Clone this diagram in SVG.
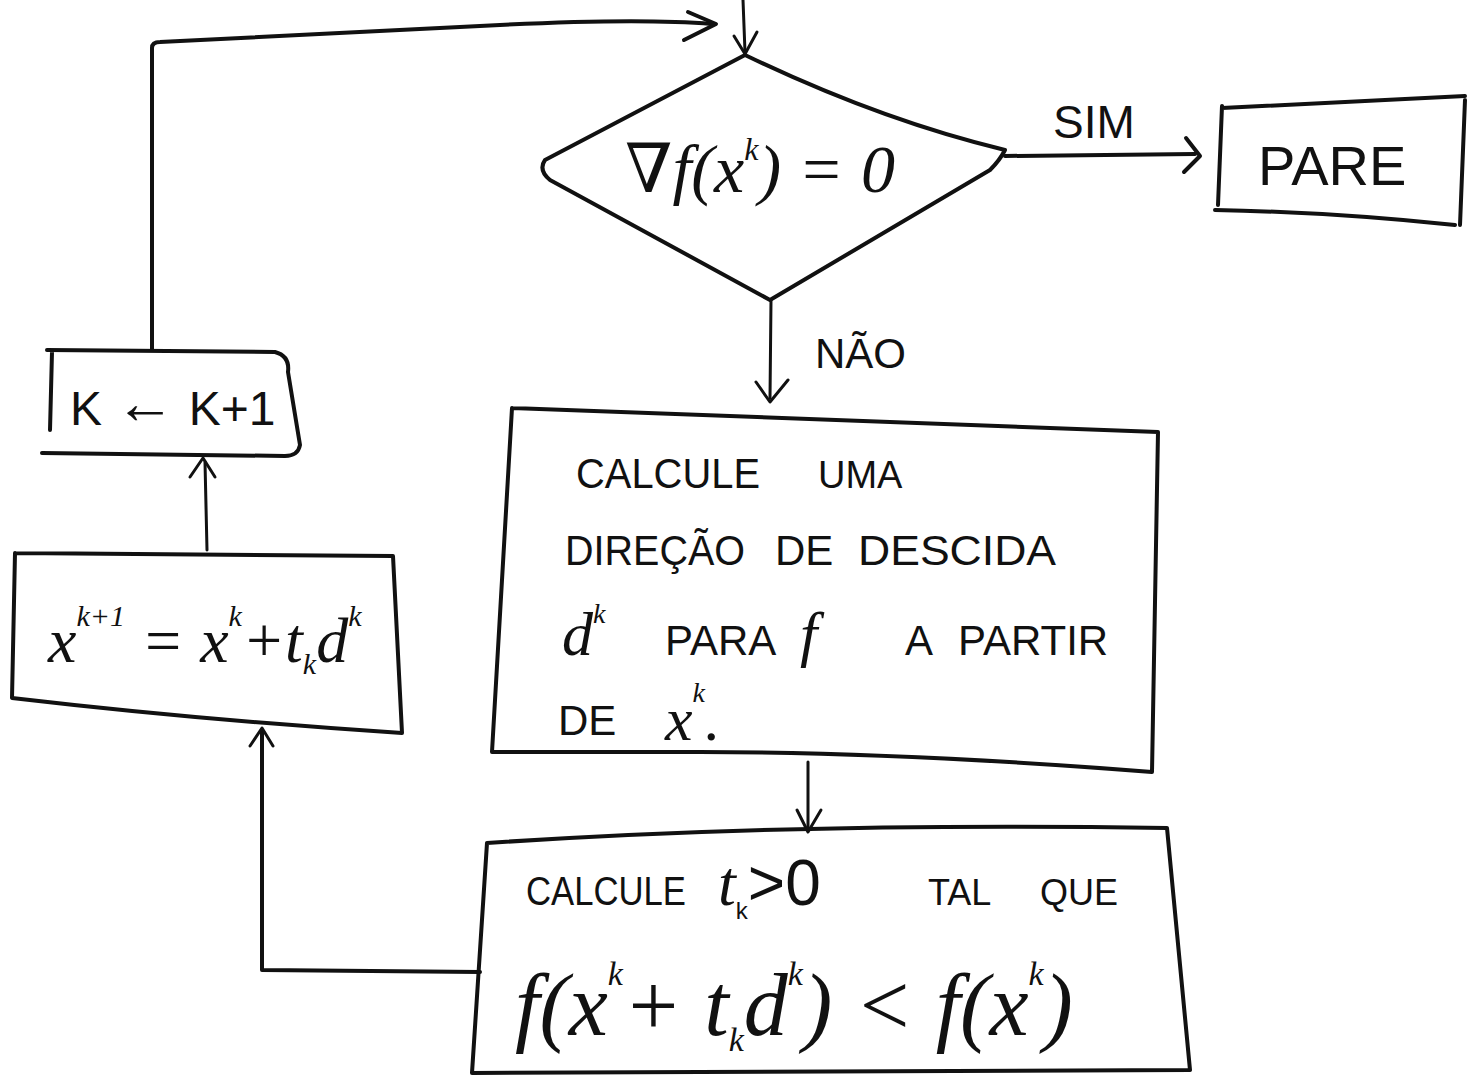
<svg xmlns="http://www.w3.org/2000/svg" width="1470" height="1083" viewBox="0 0 1470 1083">
<style>
.s{fill:none;stroke:#111;stroke-width:4;stroke-linecap:round;stroke-linejoin:round}
.c{fill:none;stroke:#111;stroke-width:3;stroke-linecap:round;stroke-linejoin:round}
.t{font-family:"Liberation Sans","DejaVu Sans",sans-serif;fill:#111}
.m{font-family:"Liberation Serif","DejaVu Serif",serif;font-style:italic;fill:#111}
</style>
<rect width="1470" height="1083" fill="#fff"/>
<g id="connectors">
  <path class="s" d="M152,350 L152,48 Q152,42 160,42 L500,25 Q640,18 712,24"/>
  <path class="s" d="M688,12 L716,24 L684,40"/>
  <path class="c" d="M743,0 L745,52"/>
  <path class="c" d="M734,36 L745,54 L757,32"/>
  <path class="s" d="M1005,156 L1195,154"/>
  <path class="s" d="M1186,138 L1200,156 L1184,172"/>
  <g id="lbl-sim"><text class="t" x="1053" y="138" font-size="46">SIM</text></g>
  <path class="c" d="M771,300 L770,398"/>
  <path class="c" d="M756,382 L770,402 L788,380"/>
  <g id="lbl-nao"><text class="t" x="815" y="368" font-size="42">NÃO</text></g>
  <path class="c" d="M808,762 L808,830"/>
  <path class="c" d="M797,810 L808,832 L821,810"/>
  <path class="s" d="M480,972 L262,970 L262,732"/>
  <path class="c" d="M250,746 L262,728 L273,746"/>
  <path class="c" d="M207,550 L205,462"/>
  <path class="c" d="M190,477 L203,458 L215,477"/>
</g>
<g id="decision">
  <path class="s" d="M745,55 Q880,120 1005,150 Q1000,160 990,170 L770,300 L550,180 Q538,170 545,160 Z"/>
  <text class="m" x="625" y="192" font-size="68">∇f(x<tspan font-size="32" dy="-32">k</tspan><tspan dy="32">) = 0</tspan></text>
</g>
<g id="pare">
  <path class="s" d="M1222,108 L1465,96 M1222,106 L1218,205 M1215,210 Q1330,212 1455,225 M1465,100 L1460,225"/>
  <text class="t" x="1258" y="185" font-size="56">PARE</text>
</g>
<g id="direcao">
  <path class="s" d="M512,408 L1158,432 L1152,772 Q900,752 700,752 L492,752 L512,408"/>
  <g class="t" font-size="42">
    <text x="576" y="488" textLength="184" lengthAdjust="spacingAndGlyphs">CALCULE</text><text x="818" y="488" font-size="38">UMA</text>
    <text x="565" y="565" textLength="180" lengthAdjust="spacingAndGlyphs">DIREÇÃO</text><text x="775" y="565">DE</text><text x="858" y="565" textLength="198" lengthAdjust="spacingAndGlyphs">DESCIDA</text>
    <text x="562" y="655" class="m" font-size="62">d<tspan font-size="28" dy="-32">k</tspan></text>
    <text x="665" y="655">PARA</text><text x="800" y="655" class="m" font-size="62">f</text><text x="905" y="655">A</text><text x="958" y="655">PARTIR</text>
    <text x="558" y="735">DE</text><text x="665" y="740" class="m" font-size="62">x<tspan font-size="28" dy="-38">k</tspan><tspan dy="38">.</tspan></text>
  </g>
</g>
<g id="passo">
  <path class="s" d="M487,843 Q800,822 1167,828 L1190,1070 Q800,1072 472,1073 L487,843"/>
  <g class="t">
    <text x="526" y="905" font-size="40" textLength="160" lengthAdjust="spacingAndGlyphs">CALCULE</text>
    <text x="718" y="905" font-size="64"><tspan class="m">t</tspan><tspan font-size="24" dy="14">k</tspan><tspan dy="-14">&gt;0</tspan></text>
    <text x="928" y="905" font-size="36">TAL</text><text x="1040" y="905" font-size="36">QUE</text>
  </g>
  <text class="m" x="515" y="1035" font-size="88">f(x<tspan font-size="34" dy="-50">k</tspan><tspan dy="50">+ t</tspan><tspan font-size="34" dy="16">k</tspan><tspan dy="-16">d</tspan><tspan font-size="34" dy="-50">k</tspan><tspan dy="50">) &lt; f(x</tspan><tspan font-size="34" dy="-50">k</tspan><tspan dy="50">)</tspan></text>
</g>
<g id="atualiza">
  <path class="s" d="M15,553 L393,556 L402,733 Q200,720 12,698 L15,553"/>
  <text class="m" x="48" y="662" font-size="64">x<tspan font-size="30" dy="-36">k+1</tspan><tspan dy="36"> = x</tspan><tspan font-size="30" dy="-36">k</tspan><tspan dy="36">+t</tspan><tspan font-size="30" dy="12">k</tspan><tspan dy="-12">d</tspan><tspan font-size="30" dy="-36">k</tspan></text>
</g>
<g id="incremento">
  <path class="s" d="M47,350 L275,352 Q290,356 288,372 L300,445 Q298,456 285,456 L42,453 M52,352 L50,430"/>
  <text class="t" x="70" y="425" font-size="48">K <tspan font-size="60" dy="-2">←</tspan><tspan dy="2"> K+1</tspan></text>
</g>
</svg>
